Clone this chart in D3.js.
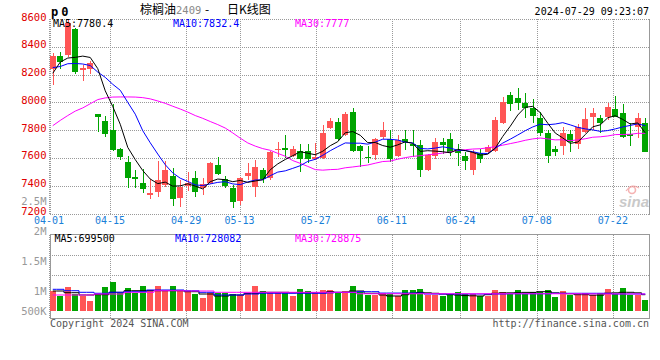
<!DOCTYPE html>
<html><head><meta charset="utf-8">
<script src="https://cdn.jsdelivr.net/npm/d3@7"></script>
<style>body{margin:0;background:#fff}svg{display:block}</style>
</head><body>
<svg id="c" width="660" height="360"></svg>
<script>
const dates = ["04-01","04-02","04-03","04-08","04-09","04-10","04-11","04-12","04-15","04-16",
"04-17","04-18","04-19","04-22","04-23","04-24","04-25","04-26","04-29","04-30",
"05-06","05-07","05-08","05-09","05-10","05-13","05-14","05-15","05-16","05-17",
"05-20","05-21","05-22","05-23","05-24","05-27","05-28","05-29","05-30","05-31",
"06-03","06-04","06-05","06-06","06-07","06-11","06-12","06-13","06-14","06-17",
"06-18","06-19","06-20","06-21","06-24","06-25","06-26","06-27","06-28","07-01",
"07-02","07-03","07-04","07-05","07-08","07-09","07-10","07-11","07-12","07-15",
"07-16","07-17","07-18","07-19","07-22","07-23","07-24","07-25","07-26","07-29"];
const opens = [8240,8334,8340,8526,8233,8240,7914,7866,7801,7662,
7571,7463,7420,7335,7357,7405,7470,7309,7398,7453,
7381,7422,7549,7446,7386,7292,7472,7393,7513,7453,
7657,7674,7614,7652,7650,7590,7597,7813,7861,7765,
7931,7688,7609,7619,7748,7736,7612,7738,7700,7693,
7510,7612,7717,7736,7657,7617,7513,7636,7640,7648,
7850,8050,8029,7998,7957,7890,7783,7664,7688,7774,
7702,7786,7893,7886,7893,7950,7921,7774,7826,7850];
const highs = [8353,8365,8590,8533,8269,8300,7916,7902,7986,7670,
7614,7513,7518,7446,7580,7580,7525,7441,7497,7508,
7453,7570,7604,7472,7405,7465,7561,7585,7525,7652,
7717,7765,7686,7700,7700,7710,7837,7885,7885,7933,
7957,7690,7683,7745,7860,7802,7767,7802,7802,7731,
7630,7743,7740,7779,7700,7640,7655,7664,7695,7898,
8040,8076,8100,8064,8021,7933,7800,7683,7826,7802,
7843,7957,7957,7910,7998,8045,7988,7850,7921,7886];
const lows = [8125,8240,8330,8204,8154,8204,7789,7753,7650,7585,
7386,7386,7350,7302,7321,7393,7254,7245,7364,7321,
7333,7410,7477,7381,7242,7261,7441,7317,7422,7440,
7609,7597,7609,7501,7566,7585,7590,7806,7724,7758,
7640,7536,7560,7588,7736,7574,7607,7660,7607,7462,
7505,7593,7631,7612,7545,7513,7476,7564,7631,7640,
7845,7940,7945,7886,7855,7760,7564,7612,7624,7640,
7667,7779,7802,7783,7874,7893,7743,7683,7743,7640];
const closes = [8334,8293,8570,8221,8245,8285,7892,7770,7657,7604,
7458,7450,7376,7350,7441,7513,7304,7389,7422,7357,
7412,7566,7484,7398,7285,7458,7494,7533,7446,7645,
7666,7657,7666,7592,7590,7609,7782,7868,7734,7914,
7652,7648,7603,7738,7802,7595,7731,7712,7683,7512,
7624,7712,7695,7643,7636,7581,7640,7593,7676,7874,
8005,7990,7998,7957,7905,7779,7612,7643,7779,7712,
7826,7881,7921,7850,7969,7898,7748,7755,7890,7643];
const volumes = [873000,655000,1048000,729000,642000,437000,686000,1048000,1266000,786000,
1004000,786000,1092000,904000,1092000,873000,1092000,904000,873000,729000,
568000,786000,755000,755000,729000,686000,786000,1079000,860000,786000,
786000,786000,655000,948000,860000,786000,904000,904000,799000,860000,
1079000,830000,686000,686000,755000,729000,655000,904000,904000,948000,
686000,686000,642000,729000,830000,729000,729000,642000,642000,904000,
830000,729000,904000,729000,830000,830000,904000,611000,860000,686000,
686000,786000,686000,786000,948000,729000,1004000,686000,686000,467000];
const ma5 = [8209,8290,8319,8324,8333,8323,8243,8083,7970,7842,
7676,7588,7509,7448,7415,7426,7397,7399,7414,7397,
7377,7429,7448,7443,7429,7438,7424,7434,7443,7515,
7557,7589,7616,7645,7634,7623,7648,7688,7717,7781,
7790,7763,7710,7711,7689,7677,7694,7716,7705,7647,
7652,7649,7645,7637,7662,7653,7640,7620,7627,7670,
7755,7828,7909,7965,7971,7926,7850,7779,7744,7705,
7714,7768,7824,7838,7889,7904,7877,7844,7852,7780.4];
const ma10 = [8250,8258,8278,8280,8276,8265,8218,8180,8130,8087,
8000,7915,7796,7709,7628,7551,7492,7454,7431,7406,
7401,7413,7424,7429,7413,7408,7427,7441,7443,7472,
7498,7507,7525,7544,7575,7590,7619,7652,7681,7708,
7706,7706,7699,7714,7735,7734,7729,7713,7708,7668,
7665,7671,7680,7671,7655,7653,7645,7633,7632,7669,
7707,7735,7765,7796,7823,7843,7839,7844,7854,7838,
7820,7809,7802,7791,7797,7809,7823,7834,7845,7832.4];
const ma30 = [7832,7870,7905,7937,7960,7990,8020,8032,8038,8039,
8039,8038,8034,8025,8010,7993,7972,7952,7930,7905,
7885,7862,7840,7815,7780,7742,7708,7685,7667,7655,
7633,7612,7581,7561,7539,7516,7512,7516,7518,7529,
7535,7542,7549,7562,7574,7577,7591,7602,7611,7616,
7623,7628,7635,7643,7654,7659,7664,7666,7673,7681,
7692,7703,7714,7727,7737,7743,7737,7730,7731,7724,
7730,7738,7749,7752,7758,7768,7769,7770,7777,7777];
const vma5 = [860000,860000,786000,786000,686000,686000,700000,700000,803000,803000,
873000,873000,873000,873000,873000,873000,873000,873000,830000,830000,
729000,729000,642000,642000,686000,686000,760000,760000,803000,803000,
803000,803000,786000,786000,786000,786000,786000,830000,803000,803000,
860000,860000,760000,760000,686000,642000,642000,700000,760000,800000,
780000,760000,729000,700000,686000,660000,650000,642000,700000,760000,
780000,780000,786000,800000,800000,830000,830000,780000,760000,740000,
700000,700000,680000,680000,760000,780000,803000,803000,780000,699500];
const vma10 = [934000,934000,873000,873000,803000,803000,760000,760000,803000,803000,
830000,830000,830000,904000,904000,904000,904000,904000,870000,870000,
803000,803000,686000,686000,686000,686000,729000,729000,760000,760000,
760000,760000,760000,760000,760000,760000,760000,780000,800000,800000,
800000,830000,830000,830000,770000,770000,770000,770000,770000,770000,
729000,729000,729000,729000,729000,729000,729000,729000,729000,729000,
729000,740000,740000,740000,740000,740000,740000,760000,760000,760000,
760000,760000,760000,760000,760000,730000,730000,730000,730000,728082];
const vma30 = [686000,686000,686000,686000,686000,686000,729000,729000,729000,729000,
803000,803000,803000,803000,873000,873000,873000,873000,860000,860000,
860000,860000,803000,803000,803000,803000,803000,803000,803000,803000,
803000,803000,803000,803000,803000,803000,803000,803000,803000,803000,
803000,740000,740000,740000,740000,740000,740000,740000,740000,740000,
740000,740000,740000,740000,740000,740000,740000,740000,740000,740000,
740000,740000,740000,740000,740000,740000,740000,740000,740000,740000,
740000,732000,732000,732000,732000,732000,732000,732000,732000,728875];
const priceTicks = [8600,8400,8200,8000,7800,7600,7400,7200];
const dateTicks = ["04-01","04-15","04-29","05-13","05-27","06-11","06-24","07-08","07-22"];
const volTicks = [2500000,2000000,1500000,1000000,500000];
const volTickLabels = ["2.5M","2M","1.5M","1M","500K"];

const RED = "#ff5555", GREEN = "#00a400", GRID = "#999", FRAME = "#999";
const MONO = "'DejaVu Sans Mono', monospace";
const svg = d3.select("#c");
const L = 50, R = 649, PT = 19, PB = 213.5, VT = 234.5, VB = 318.5;
const n = dates.length;
const x = d3.scaleBand().domain(d3.range(n)).range([49, 649]).paddingInner(0.2).paddingOuter(0.1);
const xc = i => x(i) + x.bandwidth() / 2;
const gx = d3.scaleLinear().domain([0, n]).range([49, 658.6]);
const y = d3.scaleLinear().domain([7200, 8600]).range([PB, PT]);
const vy = d3.scaleLinear().domain([0, 1000000]).range([310.7, 287.8]);
const vly = d3.scaleLinear().domain([500000, 1000000, 2500000]).range([311, 291, 201]);

// grids
const g = svg.append("g").attr("shape-rendering", "crispEdges");
priceTicks.forEach(t => {
  g.append("line").attr("x1", L).attr("x2", R).attr("y1", Math.round(y(t)) + 0.5).attr("y2", Math.round(y(t)) + 0.5)
    .attr("stroke", GRID).attr("stroke-dasharray", "1,1");
});
dateTicks.forEach(t => {
  const xx = Math.round(gx(dates.indexOf(t))) + 0.5;
  g.append("line").attr("x1", xx).attr("x2", xx).attr("y1", PT).attr("y2", PB).attr("stroke", GRID).attr("stroke-dasharray", "1,1");
  g.append("line").attr("x1", xx).attr("x2", xx).attr("y1", VT).attr("y2", VB).attr("stroke", GRID).attr("stroke-dasharray", "1,1");
});
[255.5, 275.5].forEach(yy => {
  g.append("line").attr("x1", L).attr("x2", R).attr("y1", yy).attr("y2", yy).attr("stroke", GRID).attr("stroke-dasharray", "1,1");
});
// frames
g.append("line").attr("x1", R + 0.5).attr("x2", R + 0.5).attr("y1", PT).attr("y2", PB + 1).attr("stroke", FRAME);
g.append("line").attr("x1", L + 0.5).attr("x2", L + 0.5).attr("y1", PT).attr("y2", PB + 1).attr("stroke", GRID).attr("stroke-dasharray", "1,1");
g.append("rect").attr("x", L + 0.5).attr("y", VT).attr("width", R - L).attr("height", VB - VT).attr("fill", "none").attr("stroke", FRAME);

// candles and volume bars
const cg = svg.append("g").attr("shape-rendering", "crispEdges");
d3.range(n).forEach(i => {
  const up = closes[i] >= opens[i];
  const col = up ? RED : GREEN;
  const bx = Math.round(x(i));
  const wx = bx + 3;
  cg.append("line").attr("x1", wx).attr("x2", wx).attr("y1", Math.round(y(highs[i]))).attr("y2", Math.round(y(lows[i])))
    .attr("stroke", col).attr("stroke-width", 1);
  const y0 = Math.round(y(Math.max(opens[i], closes[i])));
  const y1 = Math.round(y(Math.min(opens[i], closes[i])));
  cg.append("rect").attr("x", bx).attr("y", y0).attr("width", 6).attr("height", Math.max(1, y1 - y0)).attr("fill", col);
  const vt = Math.round(vy(volumes[i]));
  cg.append("rect").attr("x", bx).attr("y", vt).attr("width", 6).attr("height", Math.round(vy(0)) - vt).attr("fill", col);
});

// MA lines
const line = d3.line().x((d, i) => xc(i)).y(d => y(d));
const vline = d3.line().x((d, i) => xc(i)).y(d => vy(d)).curve(d3.curveStep);
[[ma30, "#ff00ff"], [ma10, "#0000ff"], [ma5, "#000"]].forEach(([arr, c]) => {
  svg.append("path").attr("d", line(arr)).attr("fill", "none").attr("stroke", c).attr("stroke-width", 1);
});
[[vma5, "#000"], [vma10, "#0000ff"], [vma30, "#ff00ff"]].forEach(([arr, c]) => {
  svg.append("path").attr("d", vline(arr)).attr("fill", "none").attr("stroke", c).attr("stroke-width", 1);
});

// axis labels
const tg = svg.append("g").attr("font-family", MONO).attr("font-size", 10.5);
priceTicks.forEach(t => {
  tg.append("text").attr("x", 46.5).attr("y", y(t) + 1.5).attr("text-anchor", "end").attr("fill", "#e00000").text(t);
});
dateTicks.forEach(t => {
  tg.append("text").attr("x", gx(dates.indexOf(t))).attr("y", 224).attr("text-anchor", "middle").attr("fill", "#1a80d8").attr("font-size", 10).text(t);
});
volTicks.forEach((t, k) => {
  tg.append("text").attr("x", 46.5).attr("y", vly(t) + 3.5).attr("text-anchor", "end").attr("fill", "#999").text(volTickLabels[k]);
});

// legends and captions
const lg = svg.append("g").attr("font-family", MONO).attr("font-size", 10);
const last = n - 1;
lg.append("text").attr("x", 53).attr("y", 27).attr("fill", "#000").text("MA5:" + ma5[last]);
lg.append("text").attr("x", 173).attr("y", 27).attr("fill", "#0000ff").text("MA10:" + ma10[last]);
lg.append("text").attr("x", 295).attr("y", 27).attr("fill", "#ff00ff").text("MA30:" + ma30[last]);
lg.append("text").attr("x", 54.5).attr("y", 241.5).attr("fill", "#000").text("MA5:" + vma5[last]);
lg.append("text").attr("x", 175).attr("y", 241.5).attr("fill", "#0000ff").text("MA10:" + vma10[last]);
lg.append("text").attr("x", 295).attr("y", 241.5).attr("fill", "#ff00ff").text("MA30:" + vma30[last]);
lg.append("text").attr("x", 50).attr("y", 326.5).attr("fill", "#555").text("Copyright 2024 SINA.COM");
lg.append("text").attr("x", 649).attr("y", 327).attr("text-anchor", "end").attr("fill", "#555").text("http://finance.sina.com.cn");
lg.append("text").attr("x", 649).attr("y", 15).attr("text-anchor", "end").attr("fill", "#000").text("2024-07-29 09:23:07");
svg.append("text").attr("x", 51).attr("y", 15.5).attr("font-family", MONO).attr("font-size", 12).attr("font-weight", "bold")
  .attr("letter-spacing", 3).attr("fill", "#000").text("p0");

// title
const title = svg.append("text").attr("y", 14).attr("font-family", "'Noto Sans CJK SC', sans-serif").attr("font-size", 12);
title.append("tspan").attr("x", 140).attr("fill", "#000").text("棕榈油");
title.append("tspan").attr("fill", "#888").attr("font-family", MONO).attr("font-size", 10.5).text("2409");
title.append("tspan").attr("x", 205).attr("fill", "#000").text("-");
title.append("tspan").attr("x", 227).attr("fill", "#000").text("日K线图");

// sina watermark
const wm = svg.append("g").attr("opacity", 0.75);
wm.append("circle").attr("cx", 632).attr("cy", 190).attr("r", 3.5).attr("fill", "none").attr("stroke", "#f29a9a").attr("stroke-width", 1.6);
wm.append("path").attr("d", "M626,191 Q632,183 639,188").attr("fill", "none").attr("stroke", "#f29a9a").attr("stroke-width", 1.2);
wm.append("text").attr("x", 619).attr("y", 207).attr("font-family", "'Liberation Sans', Arial, sans-serif").attr("font-size", 15)
  .attr("font-weight", "bold").attr("font-style", "italic").attr("fill", "#b8b8b8").text("sina");
</script>
</body></html>
